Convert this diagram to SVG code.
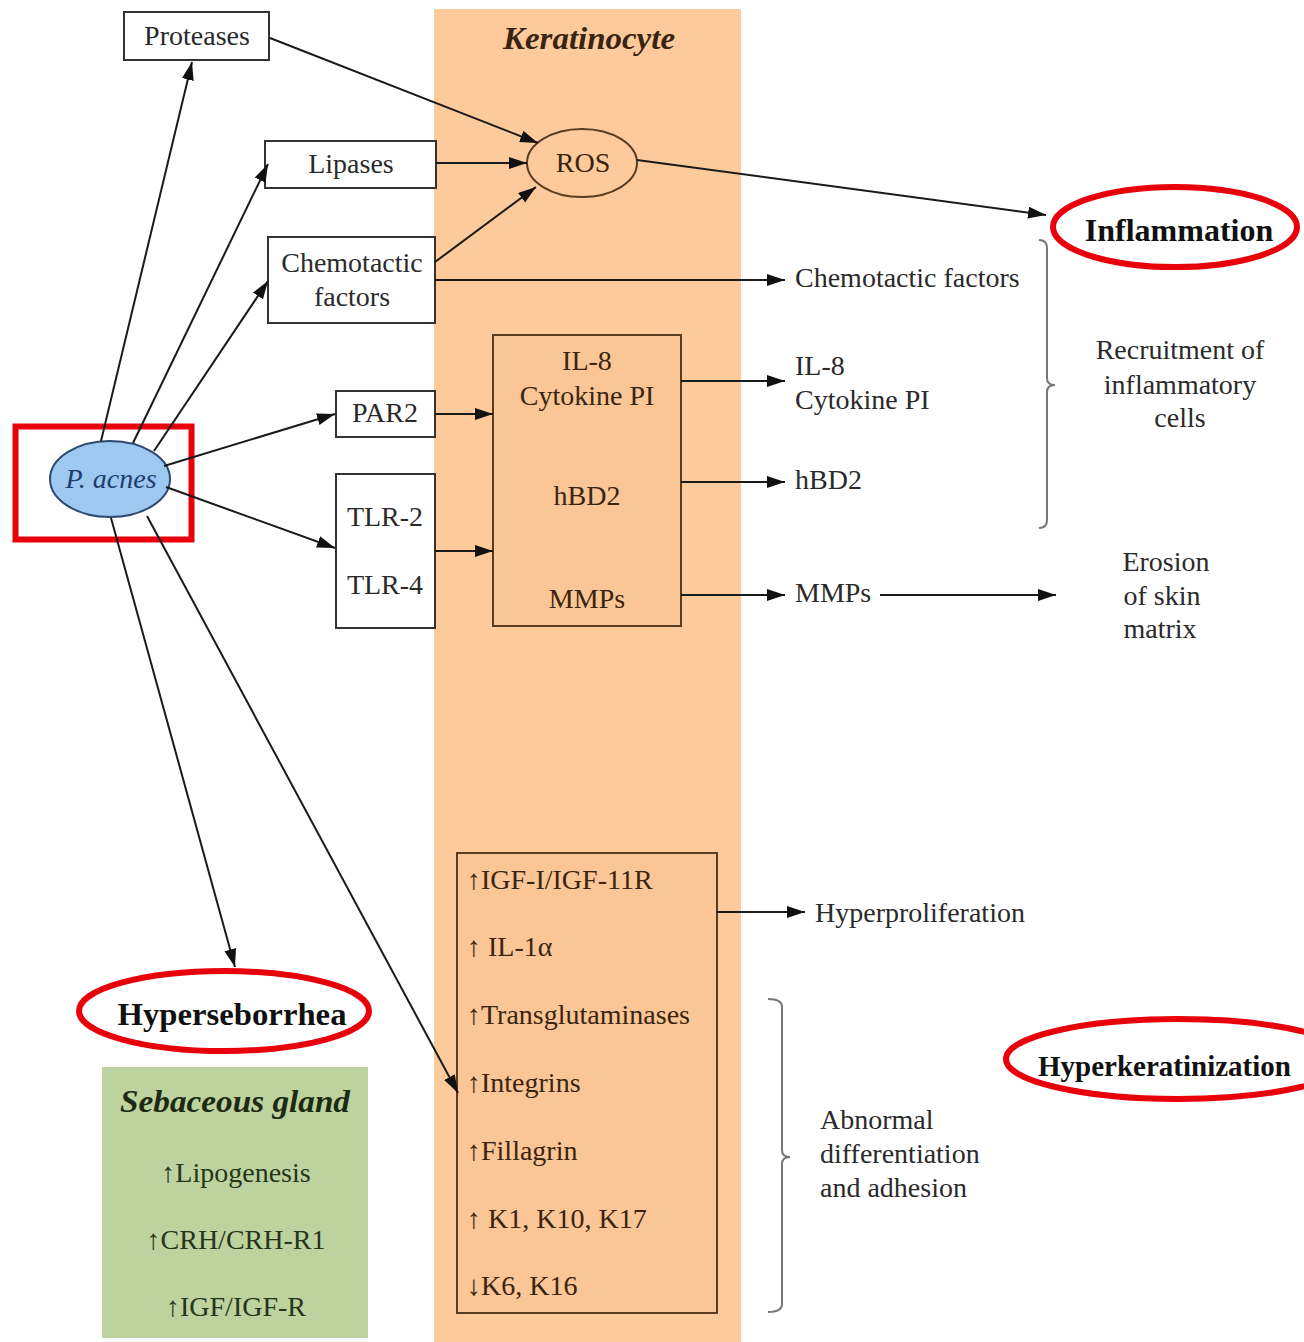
<svg xmlns="http://www.w3.org/2000/svg" width="1304" height="1342" viewBox="0 0 1304 1342">
<defs>
<marker id="ah" markerUnits="userSpaceOnUse" markerWidth="20" markerHeight="14" refX="18" refY="6" orient="auto">
<path d="M0,0 L18,6 L0,12 z" fill="#111"/>
</marker>
<style>
text{font-family:"Liberation Serif","Times New Roman",serif;font-size:28px;fill:#2a2a2a}
.c{text-anchor:middle}
.k{fill:#3a2410}
.b{font-weight:bold;font-size:32px;fill:#111}
.hdr{font-weight:bold;font-style:italic;font-size:32px}
.box{fill:#fff;stroke:#333;stroke-width:2}
.kbox{fill:#fbc695;stroke:#5a3c1e;stroke-width:2}
.edge{stroke:#1a1a1a;stroke-width:2;fill:none;marker-end:url(#ah)}
.br{stroke:#777;stroke-width:2;fill:none}
.red{fill:none;stroke:#e8000b;stroke-width:6}
</style>
</defs>
<rect width="1304" height="1342" fill="#fff"/>
<g id="keratinocyte">
<rect x="434" y="9" width="307" height="1333" fill="#fdca9c"/>
<text class="hdr c k" x="589" y="49" textLength="172" lengthAdjust="spacingAndGlyphs">Keratinocyte</text>
</g>
<g id="proteases"><rect class="box" x="124" y="12" width="145" height="48"/><text class="c" x="197" y="45">Proteases</text></g>
<g id="lipases"><rect class="box" x="265" y="141" width="171" height="47"/><text class="c" x="351" y="173">Lipases</text></g>
<g id="chemotactic"><rect class="box" x="268" y="237" width="167" height="86"/><text class="c" x="352" y="272">Chemotactic</text><text class="c" x="352" y="306">factors</text></g>
<g id="ros"><ellipse cx="582" cy="163" rx="55" ry="34" fill="#fdca9c" stroke="#5a3c1e" stroke-width="2"/><text class="c k" x="583" y="172">ROS</text></g>
<g id="par2"><rect class="box" x="336" y="391" width="99" height="46"/><text class="c" x="385" y="422">PAR2</text></g>
<g id="tlr"><rect class="box" x="336" y="474" width="99" height="154"/><text class="c" x="385" y="526">TLR-2</text><text class="c" x="385" y="594">TLR-4</text></g>
<g id="mediators"><rect class="kbox" x="493" y="335" width="188" height="291"/>
<text class="c k" x="587" y="370">IL-8</text><text class="c k" x="587" y="405">Cytokine PI</text><text class="c k" x="587" y="505">hBD2</text><text class="c k" x="587" y="608">MMPs</text></g>
<g id="pacnes"><ellipse cx="110" cy="479" rx="60" ry="38" fill="#9dc8f0" stroke="#2c4a70" stroke-width="2"/><text class="c" x="111" y="488" style="font-style:italic;fill:#1d3e6e">P. acnes</text>
<rect class="red" x="15.5" y="426.5" width="176" height="113" stroke-width="7"/></g>
<g id="inflammation"><text class="b c" x="1179" y="241">Inflammation</text><ellipse class="red" cx="1175" cy="227" rx="122" ry="40"/></g>
<g id="chemo-out"><text x="795" y="287">Chemotactic factors</text></g>
<g id="il8-out"><text x="795" y="375">IL-8</text><text x="795" y="409">Cytokine PI</text></g>
<g id="hbd2-out"><text x="795" y="489">hBD2</text></g>
<g id="mmps-out"><text x="795" y="602">MMPs</text></g>
<g id="recruitment"><path class="br" d="M1039,240 Q1047,240 1047,248 L1047,378 Q1047,385 1055,385 Q1047,385 1047,392 L1047,520 Q1047,528 1039,528"/>
<text class="c" x="1180" y="359">Recruitment of</text><text class="c" x="1180" y="394">inflammatory</text><text class="c" x="1180" y="427">cells</text></g>
<g id="erosion"><text class="c" x="1166" y="571">Erosion</text><text class="c" x="1162" y="605">of skin</text><text class="c" x="1160" y="638">matrix</text></g>
<g id="keratin-box"><rect class="kbox" x="457" y="853" width="260" height="460"/>
<text class="k" x="467" y="889">↑IGF-I/IGF-11R</text>
<text class="k" x="467" y="956">↑ IL-1α</text>
<text class="k" x="467" y="1024">↑Transglutaminases</text>
<text class="k" x="467" y="1092">↑Integrins</text>
<text class="k" x="467" y="1160">↑Fillagrin</text>
<text class="k" x="467" y="1228">↑ K1, K10, K17</text>
<text class="k" x="467" y="1295">↓K6, K16</text></g>
<g id="hyperproliferation"><text x="815" y="922">Hyperproliferation</text></g>
<g id="abnormal"><path class="br" d="M768,999 Q782,999 782,1007 L782,1150 Q782,1157 790,1157 Q782,1157 782,1164 L782,1304 Q782,1312 768,1312"/>
<text x="820" y="1129">Abnormal</text><text x="820" y="1163">differentiation</text><text x="820" y="1197">and adhesion</text></g>
<g id="hyperkeratinization"><text class="b" x="1038" y="1076" style="font-size:29px">Hyperkeratinization</text><ellipse class="red" cx="1178" cy="1059" rx="172" ry="40"/></g>
<g id="hyperseborrhea"><text class="b c" x="232" y="1025" textLength="229" lengthAdjust="spacingAndGlyphs">Hyperseborrhea</text><ellipse class="red" cx="224" cy="1011" rx="145" ry="40"/></g>
<g id="sebaceous"><rect x="102" y="1067" width="266" height="271" fill="#bcd39f"/>
<text class="hdr c" x="235" y="1112" textLength="230" lengthAdjust="spacingAndGlyphs" style="fill:#1c2a12">Sebaceous gland</text>
<text class="c" x="236" y="1182" style="fill:#26341a">↑Lipogenesis</text>
<text class="c" x="236" y="1249" style="fill:#26341a">↑CRH/CRH-R1</text>
<text class="c" x="236" y="1316" style="fill:#26341a">↑IGF/IGF-R</text></g>
<g id="connectors">
<line class="edge" x1="101" y1="441" x2="192" y2="62"/>
<line class="edge" x1="133" y1="443" x2="268" y2="164"/>
<line class="edge" x1="154" y1="451" x2="268" y2="281"/>
<line class="edge" x1="164" y1="466" x2="335" y2="414"/>
<line class="edge" x1="166" y1="487" x2="335" y2="548"/>
<line class="edge" x1="111" y1="518" x2="235" y2="967"/>
<line class="edge" x1="147" y1="516" x2="458" y2="1093"/>
<line class="edge" x1="270" y1="38" x2="538" y2="143"/>
<line class="edge" x1="436" y1="163" x2="527" y2="163"/>
<line class="edge" x1="435" y1="262" x2="536" y2="187"/>
<line class="edge" x1="637" y1="160" x2="1046" y2="215"/>
<line class="edge" x1="435" y1="280" x2="785" y2="280"/>
<line class="edge" x1="435" y1="414" x2="493" y2="414"/>
<line class="edge" x1="435" y1="551" x2="493" y2="551"/>
<line class="edge" x1="681" y1="381" x2="785" y2="381"/>
<line class="edge" x1="681" y1="482" x2="785" y2="482"/>
<line class="edge" x1="681" y1="595" x2="785" y2="595"/>
<line class="edge" x1="880" y1="595" x2="1056" y2="595"/>
<line class="edge" x1="717" y1="912" x2="805" y2="912"/>
</g>
</svg>
